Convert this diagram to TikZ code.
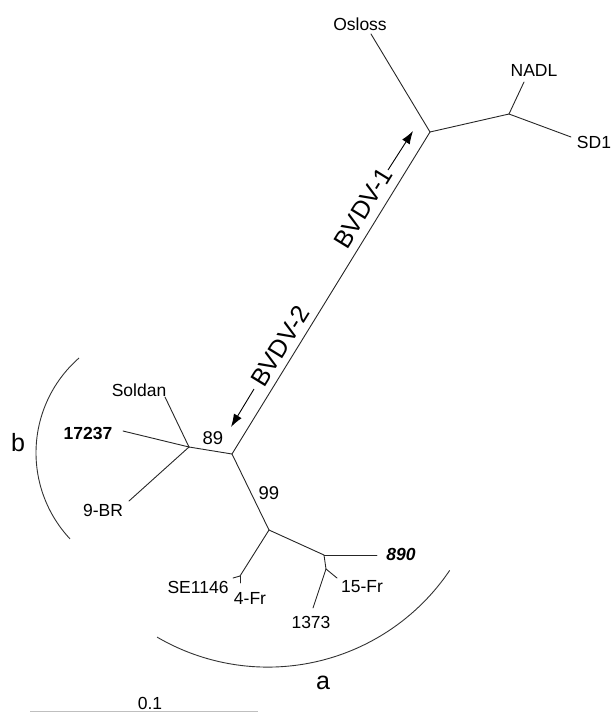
\documentclass[tikz,border=0pt]{standalone}
\usepackage{fontspec}
\setmainfont{Liberation Sans}
\usetikzlibrary{arrows.meta}
\begin{document}
\begin{tikzpicture}[x=1pt,y=-1pt,
  br/.style={line width=0.9pt, draw=black!85, line cap=round},
  arcline/.style={line width=0.9pt, draw=black!80},
  arr/.style={line width=0.9pt, draw=black, -{Latex[length=13pt,width=9pt]}},
  lbl/.style={inner sep=0pt, font=\fontsize{17.5}{20}\selectfont},
  boot/.style={inner sep=0pt, font=\fontsize{18.5}{22}\selectfont},
  geno/.style={inner sep=0pt, font=\fontsize{25}{30}\selectfont, rotate=58.4},
  grp/.style={inner sep=0pt, font=\fontsize{25}{30}\selectfont}]
\useasboundingbox (0,0) rectangle (615,713);
% junctions
\coordinate (A) at (430,132);
\coordinate (N) at (509,114);
\coordinate (B) at (232,454);
\coordinate (C) at (189,447);
\coordinate (D) at (269,530);
\coordinate (E) at (324,555);
\coordinate (F) at (326,569);
\coordinate (G) at (240,576);
% tips
\coordinate (tOsl) at (371,34);
\coordinate (tNADL) at (524,82);
\coordinate (tSD1) at (571,137);
\coordinate (tSol) at (165,397);
\coordinate (t172) at (123,431);
\coordinate (t9BR) at (129,501);
\coordinate (t890) at (377,555);
\coordinate (t15) at (337,578);
\coordinate (t1373) at (313,608);
\coordinate (tSE) at (233,578);
\coordinate (t4Fr) at (240,583);
% branches
\draw[br] (A) -- (tOsl);
\draw[br] (A) -- (N);
\draw[br] (N) -- (tNADL);
\draw[br] (N) -- (tSD1);
\draw[br] (A) -- (B);
\draw[br] (B) -- (C);
\draw[br] (C) -- (tSol);
\draw[br] (C) -- (t172);
\draw[br] (C) -- (t9BR);
\draw[br] (B) -- (D);
\draw[br] (D) -- (E);
\draw[br] (E) -- (t890);
\draw[br] (E) -- (F);
\draw[br] (F) -- (t15);
\draw[br] (F) -- (t1373);
\draw[br] (D) -- (G);
\draw[br] (G) -- (tSE);
\draw[br] (G) -- (t4Fr);
% labels
\node[lbl] (lOsl) at (360,24) {Osloss};
\node[lbl] (lNADL) at (534,70) {NADL};
\node[lbl] (lSD1) at (594,142) {SD1};
\node[lbl] (lSol) at (139,390) {Soldan};
\node[lbl, font=\fontsize{17.5}{20}\selectfont\bfseries] (l172) at (88,433) {17237};
\node[lbl] (l9BR) at (103,510) {9-BR};
\node[lbl, font=\fontsize{17.5}{20}\selectfont\bfseries\itshape] (l890) at (401,554) {890};
\node[lbl] (l15) at (362,587) {15-Fr};
\node[lbl] (l1373) at (311,622) {1373};
\node[lbl] (lSE) at (198,587) {SE1146};
\node[lbl] (l4Fr) at (250,598) {4-Fr};
\node[boot] (b89) at (213,438) {89};
\node[boot] (b99) at (269,493) {99};
% genotype arrows
\coordinate (a1s) at (388,170);
\coordinate (a1e) at (413,131);
\coordinate (a2s) at (254,389);
\coordinate (a2e) at (231,427);
\draw[arr] (a1s) -- (a1e);
\draw[arr] (a2s) -- (a2e);
\node[geno] (g1) at (363,208) {BVDV-1};
\node[geno] (g2) at (280,346) {BVDV-2};
% group arcs
\draw[arcline] plot[domain=136.9:228.8, samples=60, smooth] ({162+126*cos(\x)},{452.8+126*sin(\x)});
\draw[arcline] plot[domain=34:120.3, samples=60, smooth] ({267.8+219.4*cos(\x)},{447.7+219.4*sin(\x)});
\node[grp] (ga) at (323,683) {a};
\node[grp] (gb) at (18,443) {b};
% scale bar
\coordinate (s1) at (30,711.5);
\coordinate (s2) at (258,711.5);
\draw[line width=1pt, draw=black!25] (s1) -- (s2);
\node[lbl] (sc) at (150,703) {0.1};
\end{tikzpicture}
\end{document}
